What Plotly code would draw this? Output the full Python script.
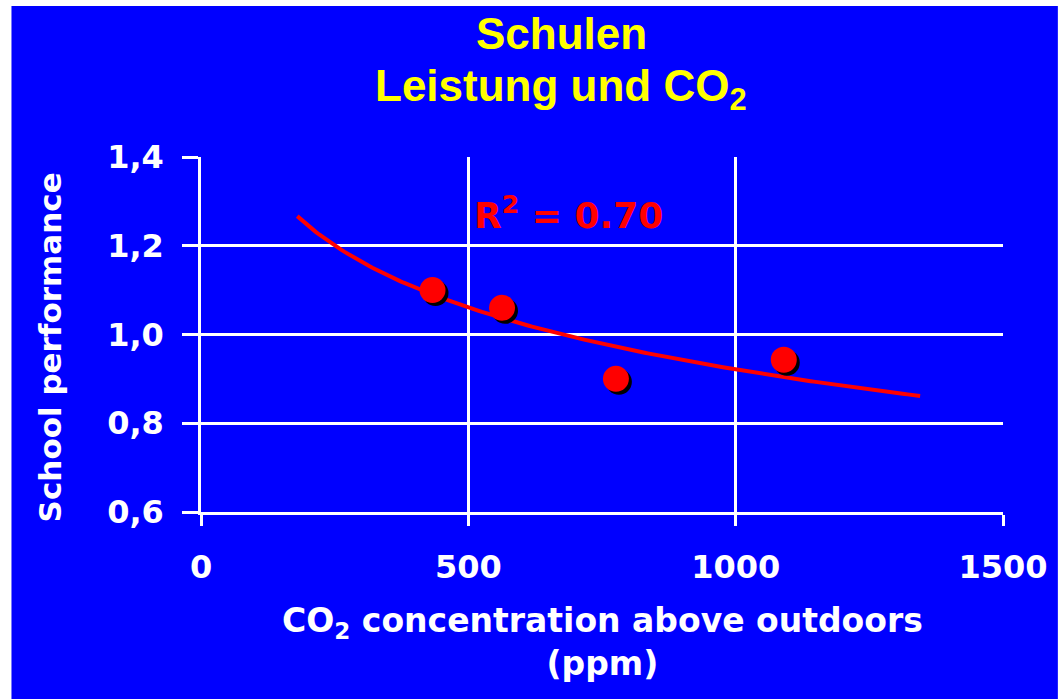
import numpy as np
import plotly.graph_objects as go

# Measured schools: CO2 above outdoors (ppm) vs. relative school performance
co2_ppm = [433, 563, 776, 1090]
performance = [1.10, 1.06, 0.90, 0.943]

# Extent of the logarithmic trend line (ppm)
trend_start, trend_end = 180, 1345
r2_label = "R<sup>2</sup> = 0.70"

x_ticks = [0, 500, 1000, 1500]
x_tick_labels = ["0", "500", "1000", "1500"]
y_ticks = [0.6, 0.8, 1.0, 1.2, 1.4]
y_tick_labels = ["0,6", "0,8", "1,0", "1,2", "1,4"]

X_RANGE = [0, 1500]
Y_RANGE = [0.6, 1.4]

BLUE = "#0000FF"
RED = "#FF0000"
YELLOW = "#FFFF00"
WHITE = "#FFFFFF"
TICK_FONT = dict(family="DejaVu Sans", size=32, color=WHITE, weight="bold")
TITLE_FONT = dict(family="Liberation Sans", size=44, color=YELLOW, weight="bold")

# Logarithmic least-squares fit y = a + b*ln(x)
b, a = np.polyfit(np.log(co2_ppm), performance, 1)
trend_x = np.linspace(trend_start, trend_end, 200)
trend_y = a + b * np.log(trend_x)

# Plot-area geometry (px) used to offset the drop shadow by a few pixels
PLOT_W, PLOT_H = 804, 355
SHADOW_PX = 3
dx = SHADOW_PX * (X_RANGE[1] - X_RANGE[0]) / PLOT_W
dy = SHADOW_PX * (Y_RANGE[1] - Y_RANGE[0]) / PLOT_H

fig = go.Figure()

fig.add_trace(go.Scatter(
    x=trend_x, y=trend_y, mode="lines",
    line=dict(color=RED, width=4), hoverinfo="skip",
    xaxis="x", yaxis="y",
))
fig.add_trace(go.Scatter(
    x=co2_ppm, y=performance, mode="markers",
    marker=dict(color="#000000", size=26, line=dict(width=0)),
    hoverinfo="skip", xaxis="x2", yaxis="y2",
))
fig.add_trace(go.Scatter(
    x=co2_ppm, y=performance, mode="markers",
    marker=dict(color=RED, size=26, line=dict(width=0)),
    xaxis="x3", yaxis="y3",
))

hidden = dict(visible=False, showgrid=False, zeroline=False, fixedrange=True)

fig.update_layout(
    width=1060, height=699,
    margin=dict(l=201, r=55, t=157, b=187),
    paper_bgcolor=WHITE,
    plot_bgcolor=BLUE,
    showlegend=False,
    xaxis=dict(
        range=X_RANGE, tickvals=x_ticks, ticktext=x_tick_labels,
        showgrid=True, gridcolor=WHITE, gridwidth=2.5,
        showline=True, linecolor=WHITE, linewidth=2.5,
        ticks="outside", ticklen=11, tickwidth=2.5, tickcolor=WHITE,
        tickfont=TICK_FONT, ticklabelstandoff=14, zeroline=False,
    ),
    yaxis=dict(
        range=Y_RANGE, tickvals=y_ticks, ticktext=y_tick_labels,
        showgrid=True, gridcolor=WHITE, gridwidth=2.5,
        showline=True, linecolor=WHITE, linewidth=2.5,
        ticks="outside", ticklen=16, tickwidth=2.5, tickcolor=WHITE,
        tickfont=TICK_FONT, ticklabelstandoff=12, zeroline=False,
    ),
    xaxis2=dict(hidden, overlaying="x", range=[X_RANGE[0] - dx, X_RANGE[1] - dx]),
    yaxis2=dict(hidden, overlaying="y", range=[Y_RANGE[0] + dy, Y_RANGE[1] + dy]),
    xaxis3=dict(hidden, overlaying="x", range=X_RANGE),
    yaxis3=dict(hidden, overlaying="y", range=Y_RANGE),
    shapes=[
        dict(type="rect", xref="paper", yref="paper",
             x0=(11 - 201) / PLOT_W, x1=(1060 - 201) / PLOT_W,
             y0=(512 - 699) / PLOT_H, y1=(512 - 6) / PLOT_H,
             fillcolor=BLUE, line=dict(width=0), layer="below"),
    ],
    annotations=[
        dict(text="Schulen", xref="paper", yref="paper",
             x=0.449, y=(512 - 33) / PLOT_H, xanchor="center", yanchor="middle",
             showarrow=False, font=TITLE_FONT),
        dict(text="Leistung und CO<sub>2</sub>", xref="paper", yref="paper",
             x=0.449, y=(512 - 89) / PLOT_H, xanchor="center", yanchor="middle",
             showarrow=False, font=TITLE_FONT),
        dict(text=r2_label, xref="paper", yref="paper",
             x=(569 - 201) / PLOT_W, y=(512 - 213) / PLOT_H,
             xanchor="center", yanchor="middle", showarrow=False,
             font=dict(family="DejaVu Sans", size=36, color=RED, weight="bold")),
        dict(text="School performance", xref="paper", yref="paper",
             x=(50 - 201) / PLOT_W, y=(512 - 347) / PLOT_H, textangle=-90,
             xanchor="center", yanchor="middle", showarrow=False,
             font=dict(family="DejaVu Sans", size=31, color=WHITE, weight="bold")),
        dict(text="CO<sub>2</sub> concentration above outdoors<br>(ppm)",
             xref="paper", yref="paper",
             x=(603 - 201) / PLOT_W, y=(512 - 642) / PLOT_H,
             xanchor="center", yanchor="middle", showarrow=False,
             font=dict(family="DejaVu Sans", size=33, color=WHITE, weight="bold")),
    ],
)

fig.write_html("out.html")
